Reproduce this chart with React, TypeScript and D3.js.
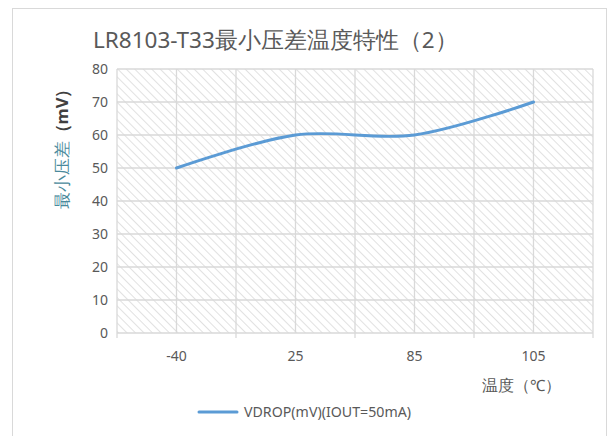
import React from "react";
import * as d3 from "d3";

const categories = ["-40", "25", "85", "105"];
const vdrop = [50, 60, 60, 70];
const yTicks = [0, 10, 20, 30, 40, 50, 60, 70, 80];
const seriesName = "VDROP(mV)(IOUT=50mA)";

const width = 609;
const height = 436;
const margin = { top: 69, right: 16, bottom: 103, left: 117 };

export default function App() {
  const innerW = width - margin.left - margin.right;
  const innerH = height - margin.top - margin.bottom;

  const x = d3.scaleBand().domain(categories).range([0, innerW]).padding(0);
  const y = d3.scaleLinear().domain([0, 80]).range([innerH, 0]);

  const line = d3
    .line<number>()
    .x((d, i) => (x(categories[i]) as number) + x.bandwidth() / 2)
    .y((d) => y(d))
    .curve(d3.curveCardinal.tension(0));

  // gridlines at category edges and centres
  const vLines: number[] = [];
  categories.forEach((c) => {
    const x0 = x(c) as number;
    vLines.push(x0, x0 + x.bandwidth() / 2);
  });
  vLines.push(innerW);

  const font = "'Noto Sans', 'Open Sans', sans-serif";

  return (
    <div style={{ position: "fixed", left: 0, top: 0 }}>
      <svg width={width} height={height} style={{ display: "block", background: "#fff" }}>
        <defs>
          <pattern id="hatch" width="6" height="6" patternUnits="userSpaceOnUse" patternTransform="rotate(-45)">
            <line x1="0" y1="0" x2="0" y2="6" stroke="#d4d4d4" strokeWidth="1.4" />
          </pattern>
        </defs>
        <rect x={12.5} y={8.5} width={594} height={440} fill="#fff" stroke="#d9d9d9" />

        <text x={93} y={48} fontFamily={font} fontSize={22.5} fill="#595959">
          LR8103-T33最小压差温度特性（2）
        </text>

        <g transform={`translate(${margin.left},${margin.top})`}>
          <rect x={0} y={0} width={innerW} height={innerH} fill="url(#hatch)" />
          {yTicks.map((t) => (
            <line key={"h" + t} x1={0} x2={innerW} y1={y(t)} y2={y(t)} stroke="#d9d9d9" strokeWidth={1.3} />
          ))}
          {vLines.map((v, i) => (
            <line key={"v" + i} x1={v} x2={v} y1={0} y2={innerH} stroke="#d9d9d9" strokeWidth={1.3} />
          ))}
          {[0, ...categories.map((c) => (x(c) as number) + x.bandwidth())].map((v, i) => (
            <line key={"t" + i} x1={v} x2={v} y1={innerH} y2={innerH + 5} stroke="#d9d9d9" strokeWidth={1.3} />
          ))}
          {yTicks.map((t) => (
            <text key={"yl" + t} x={-9} y={y(t)} dy="0.35em" textAnchor="end" fontFamily={font} fontSize={14} fill="#595959">
              {t}
            </text>
          ))}
          {categories.map((c) => (
            <text key={"xl" + c} x={(x(c) as number) + x.bandwidth() / 2} y={innerH + 28} textAnchor="middle" fontFamily={font} fontSize={14} fill="#595959">
              {c}
            </text>
          ))}
          <path d={line(vdrop) || ""} fill="none" stroke="#5b9bd5" strokeWidth={3} strokeLinecap="round" />
        </g>

        <text transform="translate(68,145) rotate(-90)" textAnchor="middle" fontFamily={font} fontSize={16.5}>
          <tspan fill="#4a8a9c">最小压差</tspan>
          <tspan fill="#404040" fontWeight="bold">（mV）</tspan>
        </text>

        <text x={482} y={391} fontFamily={font} fontSize={15.5} fill="#595959">
          温度（℃）
        </text>

        <line x1={199} x2={237} y1={412} y2={412} stroke="#5b9bd5" strokeWidth={3} strokeLinecap="round" />
        <text x={244} y={417} fontFamily={font} fontSize={14.2} fill="#595959">
          {seriesName}
        </text>
      </svg>
    </div>
  );
}
